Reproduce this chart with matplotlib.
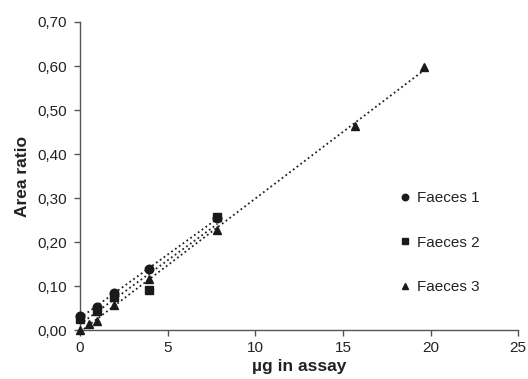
import numpy as np
import matplotlib
matplotlib.use("Agg")
import matplotlib.pyplot as plt
from matplotlib.ticker import FuncFormatter

plt.rcParams['font.family'] = ['Liberation Sans', 'DejaVu Sans']

# Amount injected (µg) and measured area ratios per sample
x_f1 = [0.0, 0.98, 1.96, 3.92, 7.84]
y_f1 = [0.032, 0.052, 0.084, 0.138, 0.255]

x_f2 = [0.0, 0.98, 1.96, 3.92, 7.84]
y_f2 = [0.026, 0.044, 0.076, 0.090, 0.258]

x_f3 = [0.0, 0.49, 0.98, 1.96, 3.92, 7.84, 15.68, 19.6]
y_f3 = [0.0, 0.014, 0.021, 0.057, 0.115, 0.228, 0.463, 0.598]

labels = ["Faeces 1", "Faeces 2", "Faeces 3"]
markers = ["o", "s", "^"]
x_ticks = [0, 5, 10, 15, 20, 25]
y_ticks = [0.0, 0.1, 0.2, 0.3, 0.4, 0.5, 0.6, 0.7]

fig = plt.figure(figsize=(5.28, 3.79), dpi=100)
ax = fig.add_axes([0.1515, 0.129, 0.83, 0.813])

series = [(x_f1, y_f1), (x_f2, y_f2), (x_f3, y_f3)]
for (xs, ys), lab, mk in zip(series, labels, markers):
    xs = np.asarray(xs)
    ys = np.asarray(ys)
    ax.plot(xs, ys, linestyle="none", marker=mk, color="#1a1a1a",
            markersize=6.2, label=lab, zorder=3, clip_on=False)
    slope, icpt = np.polyfit(xs, ys, 1)
    xl = np.array([xs.min(), xs.max()])
    ax.plot(xl, slope * xl + icpt, color="#222222", linewidth=1.3,
            linestyle=(0, (1, 1.6)), zorder=2)

ax.set_xlim(0, 25)
ax.set_ylim(0, 0.70)
ax.set_xticks(x_ticks)
ax.set_yticks(y_ticks)
ax.yaxis.set_major_formatter(FuncFormatter(lambda v, p: f"{v:.2f}".replace(".", ",")))

for s in ["top", "right"]:
    ax.spines[s].set_visible(False)
for s in ["left", "bottom"]:
    ax.spines[s].set_color("#555555")
    ax.spines[s].set_linewidth(1.0)
ax.tick_params(axis="both", direction="out", length=4, width=1.0,
               color="#555555", labelsize=11, labelcolor="#222222")
ax.tick_params(axis="y", pad=5.5)
ax.tick_params(axis="x", pad=4)

ax.set_xlabel("µg in assay", fontsize=12.5, fontweight="bold", color="#222222", labelpad=3)
ax.set_ylabel("Area ratio", fontsize=12.5, fontweight="bold", color="#222222", labelpad=5)

leg = ax.legend(loc="center left", bbox_to_anchor=(0.70, 0.284), frameon=False,
                fontsize=11, markerscale=0.75, handlelength=0.6, handletextpad=0.5,
                labelspacing=2.0, labelcolor="#222222")

fig.savefig("out.png", dpi=100)
